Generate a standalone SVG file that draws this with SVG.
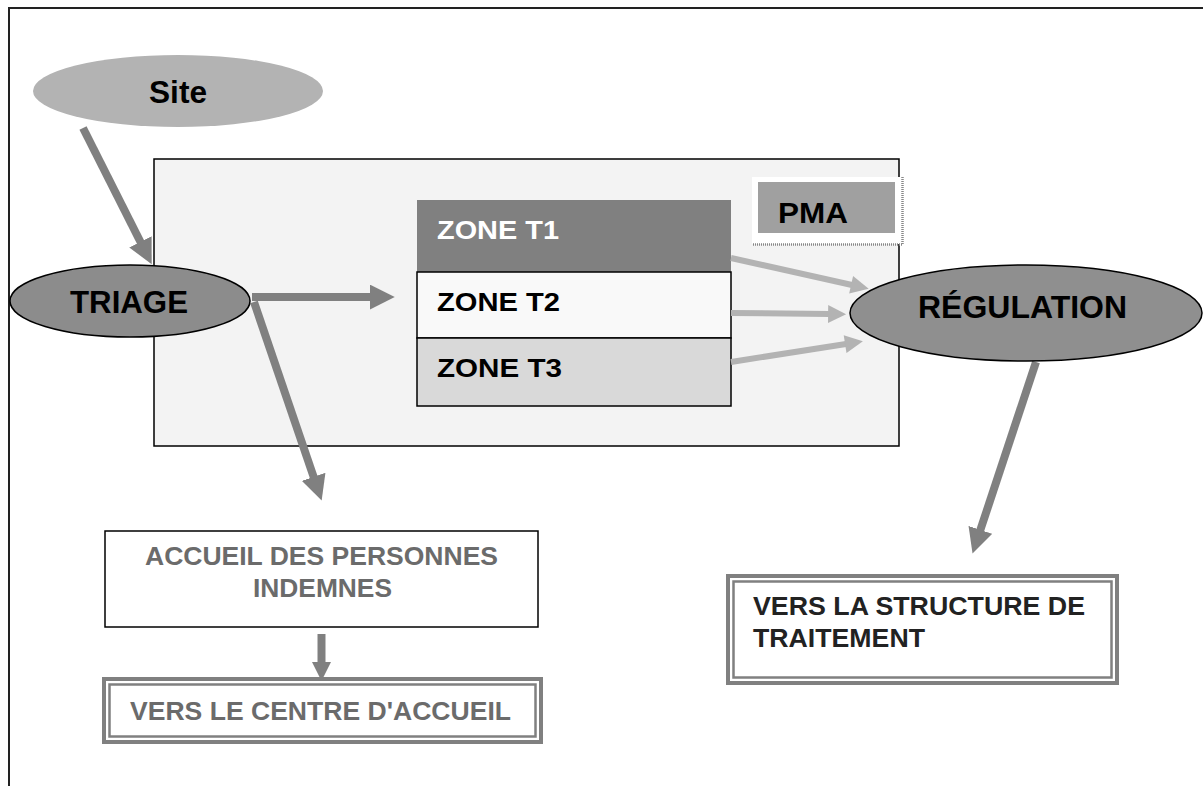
<svg xmlns="http://www.w3.org/2000/svg" width="1203" height="786" viewBox="0 0 1203 786">
<style>
text{font-family:"Liberation Sans",Arial,sans-serif;font-weight:bold}
.big{font-size:32px;fill:#000}
.zone{font-size:25px}
.box{font-size:25px}
.gtxt{fill:#6b6b6b}
.dtxt{fill:#222}
.dark{stroke:#808080;stroke-width:8;fill:none}
.light{stroke:#b3b3b3;stroke-width:6;fill:none}
.dbl{fill:none;stroke:#808080}
</style>
<defs>
<marker id="hd" viewBox="0 0 10 10" refX="0.5" refY="5" markerUnits="userSpaceOnUse" markerWidth="25" markerHeight="25" orient="auto"><path d="M0,0L10,5L0,10z" fill="#808080"/></marker>
<marker id="hds" viewBox="0 0 10 10" refX="0.5" refY="5" markerUnits="userSpaceOnUse" markerWidth="21" markerHeight="19" orient="auto"><path d="M0,0L10,5L0,10z" fill="#808080"/></marker>
<marker id="hl" viewBox="0 0 10 10" refX="0.5" refY="5" markerUnits="userSpaceOnUse" markerWidth="22" markerHeight="18" orient="auto"><path d="M0,0L10,5L0,10z" fill="#b3b3b3"/></marker>
</defs>
<rect width="1203" height="786" fill="#fff"/>
<g id="frame"><path d="M9,786V8H1203" fill="none" stroke="#222" stroke-width="2"/></g>
<g id="pma-area">
<rect x="154" y="159" width="745" height="287" fill="#f3f3f3" stroke="#000" stroke-width="1.5"/>
</g>
<g id="pma-label">
<rect x="752" y="177" width="151" height="67" fill="#fff"/>
<path d="M902.5,177V244.5H752" fill="none" stroke="#888" stroke-width="2.5" stroke-dasharray="1,1"/>
<rect x="758" y="182" width="137" height="51" fill="#a0a0a0"/>
<text x="778" y="223" font-size="30" textLength="70" lengthAdjust="spacingAndGlyphs">PMA</text>
</g>
<g id="zone-t1">
<rect x="417" y="200" width="314" height="72" fill="#808080"/>
<text class="zone" x="437" y="239" fill="#fff" textLength="122" lengthAdjust="spacingAndGlyphs">ZONE T1</text>
</g>
<g id="zone-t2">
<rect x="417" y="272" width="314" height="66" fill="#f9f9f9" stroke="#000" stroke-width="1.5"/>
<text class="zone" x="437" y="311" fill="#000" textLength="123" lengthAdjust="spacingAndGlyphs">ZONE T2</text>
</g>
<g id="zone-t3">
<rect x="417" y="338" width="314" height="68" fill="#d9d9d9" stroke="#000" stroke-width="1.5"/>
<text class="zone" x="437" y="377" fill="#000" textLength="125" lengthAdjust="spacingAndGlyphs">ZONE T3</text>
</g>
<g id="accueil">
<rect x="105" y="531" width="433" height="96" fill="#fff" stroke="#000" stroke-width="1.5"/>
<text class="box gtxt" x="321.5" y="565" text-anchor="middle" textLength="353" lengthAdjust="spacingAndGlyphs">ACCUEIL DES PERSONNES</text>
<text class="box gtxt" x="322.5" y="597" text-anchor="middle" textLength="139" lengthAdjust="spacingAndGlyphs">INDEMNES</text>
</g>
<g id="centre-accueil">
<rect x="102" y="677" width="441" height="67" fill="#fff"/>
<rect class="dbl" x="104" y="679" width="437" height="63" stroke-width="4"/>
<rect class="dbl" x="109.5" y="684.5" width="426" height="52" stroke-width="2.5"/>
<text class="box gtxt" x="320.5" y="720" text-anchor="middle" textLength="381" lengthAdjust="spacingAndGlyphs">VERS LE CENTRE D'ACCUEIL</text>
</g>
<g id="structure">
<rect x="726" y="574" width="393" height="111" fill="#fff"/>
<rect class="dbl" x="728" y="576" width="389" height="107" stroke-width="4"/>
<rect class="dbl" x="733.5" y="581.5" width="378" height="96" stroke-width="2.5"/>
<text class="box dtxt" x="753" y="615" textLength="332" lengthAdjust="spacingAndGlyphs">VERS LA STRUCTURE DE</text>
<text class="box dtxt" x="753" y="647" textLength="172" lengthAdjust="spacingAndGlyphs">TRAITEMENT</text>
</g>
<g id="connectors">
<path class="dark" d="M83,128L141,243" marker-end="url(#hd)"/>
<path class="dark" d="M252,297H371" marker-end="url(#hd)"/>
<path class="dark" d="M254,302L314,478" marker-end="url(#hd)"/>
<path class="dark" stroke-width="7" d="M321.5,634V663" marker-end="url(#hds)"/>
<path class="dark" stroke-width="7" d="M1036,362L980,531" marker-end="url(#hd)"/>
<path class="light" d="M731,258L852,285" marker-end="url(#hl)"/>
<path class="light" d="M731,313L829,314" marker-end="url(#hl)"/>
<path class="light" d="M731,362L846,344" marker-end="url(#hl)"/>
</g>
<g id="site">
<ellipse cx="178" cy="91" rx="145" ry="36" fill="#b3b3b3"/>
<text class="big" x="178" y="103" text-anchor="middle" textLength="58" lengthAdjust="spacingAndGlyphs">Site</text>
</g>
<g id="triage">
<ellipse cx="130" cy="301" rx="120" ry="36" fill="#8c8c8c" stroke="#000" stroke-width="1.5"/>
<text class="big" x="129" y="313" text-anchor="middle" textLength="118" lengthAdjust="spacingAndGlyphs">TRIAGE</text>
</g>
<g id="regulation">
<ellipse cx="1026" cy="313" rx="176" ry="48" fill="#8f8f8f" stroke="#000" stroke-width="1.5"/>
<text class="big" x="1022.5" y="318" text-anchor="middle" textLength="209" lengthAdjust="spacingAndGlyphs">RÉGULATION</text>
</g>
</svg>
